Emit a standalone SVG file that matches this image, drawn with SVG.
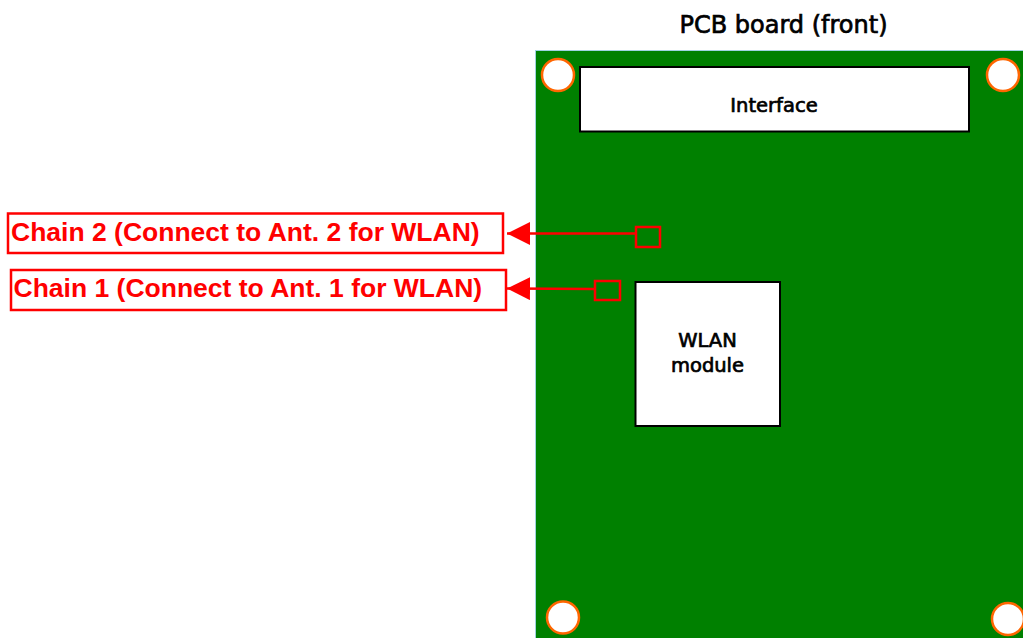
<svg xmlns="http://www.w3.org/2000/svg" width="1023" height="638" viewBox="0 0 1023 638">
<style>
.hole{fill:#ffffff;stroke:#ff6600;stroke-width:2.5}
.box{fill:#ffffff;stroke:#000000;stroke-width:2}
.lbl{font-family:"DejaVu Sans","Liberation Sans",sans-serif;fill:#000000;stroke:#000000;stroke-width:0.7;text-anchor:middle}
.chainbox{fill:#ffffff;stroke:#ff0000;stroke-width:2.5}
.chaintxt{font-family:"Liberation Sans",Arial,sans-serif;font-weight:bold;font-size:26.5px;fill:#ff0000}
.pad{fill:none;stroke:#ff0000;stroke-width:2.5}
.conn{stroke:#ff0000;stroke-width:2.5;fill:none}
</style>
<defs>
<marker id="arr" markerUnits="userSpaceOnUse" markerWidth="24" markerHeight="24" refX="23" refY="11.5" orient="auto">
<path d="M0,0 L23,11.5 L0,23 Z" fill="#ff0000"/>
</marker>
</defs>
<rect width="1023" height="638" fill="#ffffff"/>
<g id="title">
<text class="lbl" x="783.5" y="33" font-size="24">PCB board (front)</text>
</g>
<g id="board">
<rect x="535.5" y="50.5" width="490" height="600" fill="#008000" stroke="#9fd3e0" stroke-width="1"/>
</g>
<g id="holes">
<circle class="hole" cx="558" cy="75" r="16"/>
<circle class="hole" cx="1003" cy="75" r="16"/>
<circle class="hole" cx="563" cy="617.5" r="16"/>
<circle class="hole" cx="1008" cy="619" r="16"/>
</g>
<g id="interface">
<rect class="box" x="580" y="67" width="389" height="64.5"/>
<text class="lbl" x="774" y="112" font-size="19.5">Interface</text>
</g>
<g id="wlan-module">
<rect class="box" x="635.5" y="282" width="144.5" height="144"/>
<text class="lbl" x="707.5" y="346.5" font-size="19.5">WLAN</text>
<text class="lbl" x="707.5" y="371.5" font-size="19.5">module</text>
</g>
<g id="pad2">
<rect class="pad" x="636" y="227" width="24" height="20"/>
</g>
<g id="pad1">
<rect class="pad" x="595" y="281" width="25" height="19"/>
</g>
<g id="chain2">
<rect class="chainbox" x="8" y="213.5" width="495" height="39.5"/>
<text class="chaintxt" x="11" y="241">Chain 2 (Connect to Ant. 2 for WLAN)</text>
</g>
<g id="chain1">
<rect class="chainbox" x="11" y="270" width="495" height="40"/>
<text class="chaintxt" x="13.5" y="297">Chain 1 (Connect to Ant. 1 for WLAN)</text>
</g>
<g id="connectors">
<line class="conn" x1="636" y1="233.5" x2="507" y2="233.5" marker-end="url(#arr)"/>
<line class="conn" x1="595" y1="289" x2="507" y2="288.5" marker-end="url(#arr)"/>
</g>
</svg>
